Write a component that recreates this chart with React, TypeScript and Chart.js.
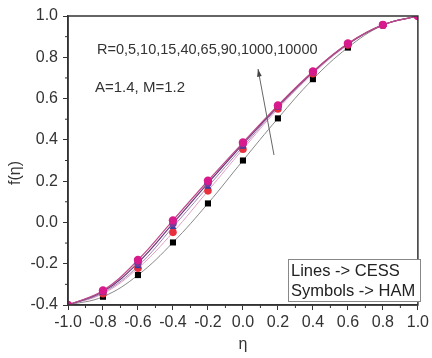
import React, { useEffect, useRef } from "react";
import { Chart, registerables } from "chart.js";

Chart.register(...registerables);

const eta = [-1.0, -0.8, -0.6, -0.4, -0.2, 0.0, 0.2, 0.4, 0.6, 0.8, 1.0];
const fR0 = [-0.4, -0.36, -0.255, -0.097, 0.092, 0.3, 0.504, 0.694, 0.847, 0.955, 1.0];
const fR5 = [-0.4, -0.345, -0.222, -0.048, 0.153, 0.355, 0.55, 0.72, 0.86, 0.957, 1.0];
const fR15 = [-0.4, -0.34, -0.212, -0.022, 0.173, 0.367, 0.557, 0.725, 0.863, 0.957, 1.0];
const fR90 = [-0.4, -0.335, -0.196, -0.005, 0.19, 0.38, 0.563, 0.729, 0.865, 0.957, 1.0];
const fR10000 = [-0.4, -0.33, -0.182, 0.01, 0.202, 0.387, 0.567, 0.731, 0.867, 0.957, 1.0];

const xTicks = [-1.0, -0.8, -0.6, -0.4, -0.2, 0.0, 0.2, 0.4, 0.6, 0.8, 1.0];
const yTicks = [-0.4, -0.2, 0.0, 0.2, 0.4, 0.6, 0.8, 1.0];

const FONT = "'Liberation Sans', Arial, sans-serif";
const pts = (ys: number[]) => eta.map((x, i) => ({ x, y: ys[i] }));

export default function App() {
  const ref = useRef<HTMLCanvasElement>(null);
  useEffect(() => {
    document.body.style.margin = "0";
    const ctx = ref.current!;
    const decor = {
      id: "decor",
      afterDraw(chart: any) {
        const c = chart.ctx;
        const a = chart.chartArea;
        const xs = chart.scales.x;
        const ys = chart.scales.y;
        c.save();
        // frame
        c.strokeStyle = "#333";
        c.lineWidth = 1.5;
        c.strokeRect(a.left, a.top, a.right - a.left, a.bottom - a.top);
        // minor ticks
        c.lineWidth = 1;
        for (let i = 0; i < xTicks.length - 1; i++) {
          const px = xs.getPixelForValue((xTicks[i] + xTicks[i + 1]) / 2);
          c.beginPath();
          c.moveTo(px, a.bottom);
          c.lineTo(px, a.bottom + 3);
          c.stroke();
        }
        for (let i = 0; i < yTicks.length - 1; i++) {
          const py = ys.getPixelForValue((yTicks[i] + yTicks[i + 1]) / 2);
          c.beginPath();
          c.moveTo(a.left, py);
          c.lineTo(a.left - 3, py);
          c.stroke();
        }
        // texts
        c.fillStyle = "#333";
        c.font = `14.5px ${FONT}`;
        c.textBaseline = "middle";
        c.textAlign = "left";
        c.fillText("R=0,5,10,15,40,65,90,1000,10000", 97, 50);
        c.font = `15px ${FONT}`;
        c.fillText("A=1.4, M=1.2", 95, 88);
        // arrow
        const x0 = 274, y0 = 155, x1 = 258, y1 = 69;
        c.strokeStyle = "#666";
        c.lineWidth = 1;
        c.beginPath();
        c.moveTo(x0, y0);
        c.lineTo(x1, y1);
        c.stroke();
        const ang = Math.atan2(y1 - y0, x1 - x0);
        c.fillStyle = "#444";
        c.beginPath();
        c.moveTo(x1, y1);
        c.lineTo(x1 - 8 * Math.cos(ang - 0.3), y1 - 8 * Math.sin(ang - 0.3));
        c.lineTo(x1 - 8 * Math.cos(ang + 0.3), y1 - 8 * Math.sin(ang + 0.3));
        c.closePath();
        c.fill();
        // legend box
        c.fillStyle = "#fff";
        c.fillRect(288, 259, 133, 43);
        c.strokeStyle = "#888";
        c.lineWidth = 1;
        c.strokeRect(288.5, 259.5, 132, 42);
        c.fillStyle = "#222";
        c.font = `16.5px ${FONT}`;
        c.fillText("Lines -> CESS", 291, 271);
        c.fillText("Symbols -> HAM", 291, 291);
        // axis titles
        c.font = `16px ${FONT}`;
        c.textAlign = "center";
        c.fillStyle = "#333";
        c.fillText("η", (a.left + a.right) / 2, 345);
        c.save();
        c.translate(16, 173);
        c.rotate(-Math.PI / 2);
        c.fillText("f(η)", 0, 0);
        c.restore();
        c.restore();
      },
    };
    const line = (ys: number[], color: string, w = 1) => ({
      data: pts(ys),
      showLine: true,
      borderColor: color,
      borderWidth: w,
      pointRadius: 0,
      tension: 0.4,
      fill: false,
    });
    const sym = (ys: number[], color: string, style: string, r: number) => ({
      data: pts(ys),
      showLine: false,
      pointStyle: style,
      pointRadius: r,
      backgroundColor: color,
      borderColor: color,
      borderWidth: 0,
    });
    const chart = new Chart(ctx, {
      type: "scatter",
      data: {
        datasets: [
          sym(fR10000, "#d81b8c", "circle", 4.2),
          sym(fR90, "#7a3a9a", "circle", 3.8),
          sym(fR15, "#3a3aa0", "triangle", 4),
          sym(fR5, "#e8303c", "circle", 3.8),
          sym(fR0, "#000", "rect", 4.3),
          line(fR10000, "#c04a8a", 1.2),
          line(fR90, "#6a3a7a", 1.2),
          line(fR15, "#a080b8", 1),
          line(fR5, "#e0a0c0", 1),
          line(fR0, "#888", 1),
        ] as any,
      },
      options: {
        animation: false,
        responsive: false,
        events: [],
        layout: { padding: { top: 16, right: 9, left: 0, bottom: 0 } },
        plugins: { legend: { display: false }, tooltip: { enabled: false } },
        scales: {
          x: {
            type: "linear",
            min: -1,
            max: 1,
            afterFit: (s: any) => { s.height = 53; },
            afterBuildTicks: (s: any) => { s.ticks = xTicks.map((v) => ({ value: v })); },
            grid: { drawOnChartArea: false, drawTicks: true, tickLength: 5, tickColor: "#333", tickWidth: 1 },
            border: { display: true, color: "#333", width: 1.5 },
            ticks: {
              color: "#333",
              font: { family: FONT, size: 16 },
              padding: 3,
              maxRotation: 0,
              autoSkip: false,
              callback: (v: any) => Number(v).toFixed(1),
            },
          },
          y: {
            type: "linear",
            min: -0.4,
            max: 1.0,
            afterFit: (s: any) => { s.width = 68; },
            afterBuildTicks: (s: any) => { s.ticks = yTicks.map((v) => ({ value: v })); },
            grid: { drawOnChartArea: false, drawTicks: true, tickLength: 5, tickColor: "#333", tickWidth: 1 },
            border: { display: true, color: "#333", width: 1.5 },
            ticks: {
              color: "#333",
              font: { family: FONT, size: 16 },
              padding: 5,
              autoSkip: false,
              callback: (v: any) => Number(v).toFixed(1),
            },
          },
        },
      },
      plugins: [decor],
    } as any);
    return () => chart.destroy();
  }, []);
  return (
    <div style={{ position: "fixed", left: 0, top: 0, width: 432, height: 358, background: "#fff" }}>
      <canvas ref={ref} width={432} height={358} style={{ width: 432, height: 358 }} />
    </div>
  );
}
